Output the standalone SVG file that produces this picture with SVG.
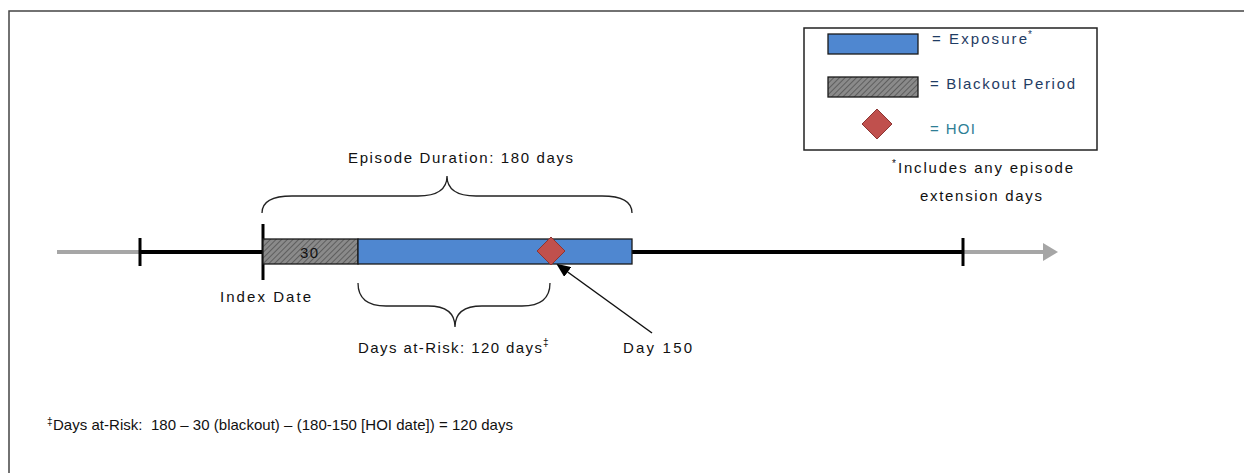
<svg xmlns="http://www.w3.org/2000/svg" width="1244" height="473" viewBox="0 0 1244 473">
  <style>
    text { font-family: "Liberation Sans", "DejaVu Sans", sans-serif; font-size: 15px; fill: #111; white-space: pre; }
    .legend { fill: #1F3C64; }
    .hoi { fill: #2E7E95; }
    .sup { font-size: 10px; }
    .axis { stroke: #000; stroke-width: 4; fill: none; }
    .tick { stroke: #000; stroke-width: 3; }
    .brace { stroke: #222; stroke-width: 1.3; fill: none; }
    .expo { fill: #4F87D0; stroke: #1a1a1a; stroke-width: 1.3; }
    .black { fill: url(#hatch); stroke: #1a1a1a; stroke-width: 1.3; }
    .hoiMark { fill: #C0504D; stroke: #8C3533; stroke-width: 1; }
  </style>
  <defs>
    <pattern id="hatch" width="4" height="4" patternUnits="userSpaceOnUse" patternTransform="rotate(45)">
      <rect width="4" height="4" fill="#8a8a8a"/>
      <line x1="0" y1="0" x2="0" y2="4" stroke="#5e5e5e" stroke-width="2"/>
    </pattern>
    <marker id="arrowBlack" markerWidth="14" markerHeight="12" refX="12" refY="6" orient="auto" markerUnits="userSpaceOnUse">
      <path d="M0,0 L14,6 L0,12 z" fill="#000"/>
    </marker>
  </defs>

  <rect width="1244" height="473" fill="#fff"/>
  <!-- outer frame -->
  <rect x="9" y="11" width="1250" height="480" fill="none" stroke="#444" stroke-width="1.5"/>

  <!-- timeline and connectors -->
  <g id="connectors">
    <line x1="57" y1="252" x2="140" y2="252" stroke="#a6a6a6" stroke-width="4"/>
    <line x1="140" y1="252" x2="963" y2="252" class="axis"/>
    <line x1="963" y1="252" x2="1045" y2="252" stroke="#a6a6a6" stroke-width="4"/>
    <polygon points="1043,243 1058,252 1043,261" fill="#a6a6a6"/>
    <line x1="140" y1="238" x2="140" y2="266" class="tick"/>
    <line x1="963" y1="238" x2="963" y2="266" class="tick"/>
    <line x1="263" y1="224" x2="263" y2="280" class="tick"/>
    <!-- braces -->
    <path class="brace" d="M262,213 Q262,196 292,196 L418,196 Q447,196 447,176 Q447,196 476,196 L602,196 Q632,196 632,213"/>
    <path class="brace" d="M358,283 Q358,306 386,306 L428,306 Q455,306 455,327 Q455,306 482,306 L522,306 Q550,306 550,283"/>
    <!-- pointer to HOI -->
    <line x1="652" y1="333" x2="558" y2="265" stroke="#111" stroke-width="1.5" marker-end="url(#arrowBlack)"/>
  </g>

  <g id="blackout">
    <rect x="263" y="239" width="95" height="25" class="black"/>
    <text x="309" y="258" text-anchor="middle" textLength="18">30</text>
  </g>
  <g id="exposure">
    <rect x="358" y="239" width="274" height="25" class="expo"/>
  </g>
  <g id="hoi">
    <polygon points="551,237 565,251 551,265 537,251" class="hoiMark"/>
  </g>

  <g id="labels">
    <text x="348" y="163" textLength="225">Episode Duration: 180 days</text>
    <text x="220" y="302" textLength="91">Index Date</text>
    <text x="358" y="353" textLength="184">Days at-Risk: 120 days</text>
    <text x="543" y="346" class="sup">‡</text>
    <text x="623" y="353" textLength="69">Day 150</text>
  </g>

  <g id="legend">
    <rect x="804" y="28" width="293" height="122" fill="#fff" stroke="#222" stroke-width="1.5"/>
    <rect x="828" y="34" width="90" height="20" class="expo"/>
    <rect x="828" y="77" width="90" height="20" class="black"/>
    <polygon points="877,109 892,124 877,139 862,124" class="hoiMark"/>
    <text x="932" y="44" class="legend" textLength="95">= Exposure</text>
    <text x="1028" y="38" class="legend sup">*</text>
    <text x="930" y="89" class="legend" textLength="145">= Blackout Period</text>
    <text x="930" y="134" class="hoi" textLength="45">= HOI</text>
  </g>

  <g id="note">
    <text x="892" y="167" class="sup">*</text>
    <text x="898" y="173" textLength="175">Includes any episode</text>
    <text x="920" y="201" textLength="122">extension days</text>
  </g>

  <g id="footnote">
    <text x="47" y="425" class="sup">‡</text>
    <text x="53" y="430" textLength="460">Days at-Risk:  180 – 30 (blackout) – (180-150 [HOI date]) = 120 days</text>
  </g>
</svg>
